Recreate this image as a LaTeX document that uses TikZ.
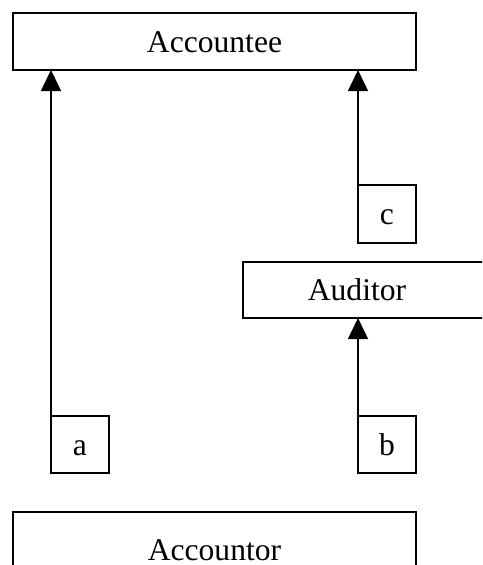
\documentclass[tikz,border=0pt]{standalone}
\usepackage{fontspec}
\setmainfont{Liberation Serif}
\usetikzlibrary{arrows.meta}
\begin{document}
\begin{tikzpicture}[x=1pt,y=-1pt,
  box/.style={draw=black,line width=2pt,rectangle,inner sep=0pt,outer sep=0pt,
    font=\fontsize{31.6}{36}\selectfont,text height=21.5pt,text depth=0pt},
  lbl/.style={inner sep=0pt,outer sep=0pt,anchor=base,font=\fontsize{31.6}{36}\selectfont},
  arr/.style={line width=1.5pt,-{Triangle[length=21pt,width=20pt]}}]
\useasboundingbox (0,0) rectangle (482,565);
\clip (0,0) rectangle (482,565);
% boxes
\node[box,minimum width=403pt,minimum height=57pt] (acc) at (214.5,41.5) {Accountee};
\node[box,minimum width=58pt,minimum height=58pt] (c) at (387,214) {c};
\node[box,minimum width=260pt,minimum height=56pt] (aud) at (373,290) {};
\node[lbl] (audt) at (357,300.7) {Auditor};
\node[box,minimum width=58pt,minimum height=57pt] (a) at (80,444.5) {a};
\node[box,minimum width=58pt,minimum height=57pt] (b) at (387,444.5) {b};
\node[box,minimum width=403pt,minimum height=80pt] (acr) at (214.5,552) {};
\node[lbl] (acrt) at (214.5,560.5) {Accountor};
% connectors
\draw[arr] (a.north west) -- (a.north west |- acc.south);
\draw[arr] (c.north west) -- (c.north west |- acc.south);
\draw[arr] (b.north west) -- (b.north west |- aud.south);
\end{tikzpicture}
\end{document}
